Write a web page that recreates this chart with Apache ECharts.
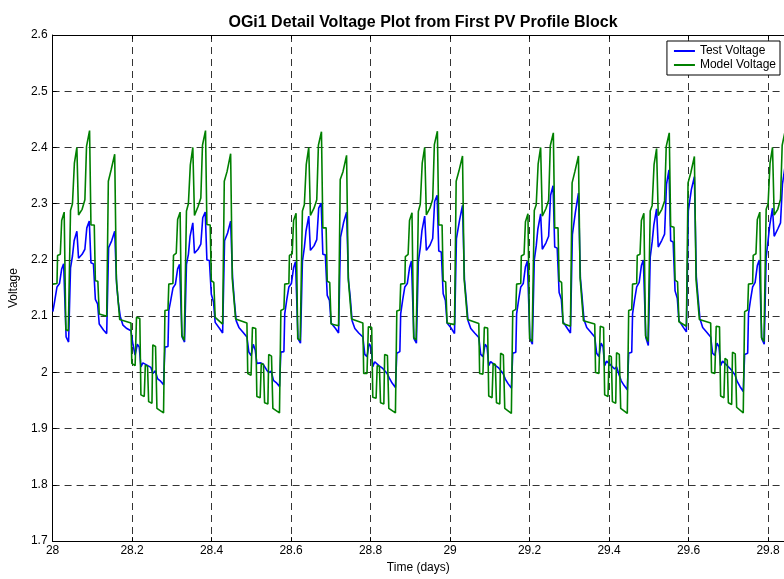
<!DOCTYPE html>
<html>
<head>
<meta charset="utf-8">
<title>OGi1 Detail Voltage Plot</title>
<script src="https://cdn.jsdelivr.net/npm/echarts@6/dist/echarts.min.js"></script>
<style>
html, body { margin: 0; padding: 0; background: #fff; }
#chart { width: 784px; height: 579px; }
</style>
</head>
<body>
<div id="chart"></div>
<script>
// profile block repeats every 7 hours, starting at day 28
var startDay = 28;
var cycleMinutes = 420;

var xMin = 28, xMax = 29.84, xStep = 0.2;
var yMin = 1.7, yMax = 2.6, yStep = 0.1;

// minute offsets inside one cycle where each trace changes
var modelMinutes = [1,16,18,28,33,42,46,48,57,65,72,79,88,94,107,117,123,134,139,151,155,164,169,196,202,212,225,231,238,243,284,287,299,304,316,320,332,336,344,348,360,363,373,378,402,407,418];
var testMinutes = [1,8,16,25,33,40,49,58,65,72,78,88,94,107,117,124,133,139,148,155,163,169,185,196,203,214,225,232,238,245,255,269,284,291,299,307,314,320,327,334,342,349,356,363,372,380,390,402,407,418];

// Model Voltage, one row per cycle
var modelCycles = [
  [2.157,2.158,2.208,2.210,2.270,2.285,2.285,2.076,2.074,2.288,2.300,2.372,2.400,2.280,2.290,2.307,2.402,2.430,2.262,2.262,2.163,2.162,2.104,2.100,2.340,2.360,2.388,2.166,2.165,2.094,2.088,2.016,2.012,2.098,2.096,1.960,1.957,2.013,2.011,1.948,1.945,2.049,2.046,1.936,1.928,2.110,2.111],
  [2.157,2.158,2.208,2.212,2.272,2.285,2.285,2.066,2.057,2.287,2.300,2.369,2.400,2.279,2.295,2.310,2.404,2.430,2.263,2.262,2.163,2.160,2.098,2.086,2.340,2.357,2.389,2.166,2.165,2.095,2.088,1.998,1.995,2.080,2.078,1.957,1.955,2.016,2.014,1.946,1.944,2.032,2.029,1.936,1.928,2.110,2.113],
  [2.157,2.158,2.208,2.211,2.270,2.283,2.283,2.060,2.057,2.287,2.298,2.370,2.400,2.279,2.292,2.307,2.404,2.428,2.257,2.257,2.162,2.160,2.086,2.083,2.343,2.357,2.386,2.168,2.166,2.095,2.088,1.998,1.998,2.081,2.080,1.956,1.954,2.012,2.011,1.946,1.944,2.032,2.030,1.936,1.928,2.109,2.111],
  [2.157,2.158,2.206,2.210,2.270,2.284,2.284,2.062,2.058,2.286,2.299,2.372,2.400,2.280,2.292,2.308,2.405,2.429,2.262,2.262,2.163,2.161,2.088,2.085,2.340,2.358,2.385,2.166,2.164,2.094,2.087,1.998,1.997,2.080,2.079,1.958,1.955,2.016,2.014,1.946,1.944,2.034,2.031,1.936,1.927,2.109,2.112],
  [2.157,2.158,2.207,2.210,2.268,2.282,2.282,2.060,2.055,2.288,2.298,2.371,2.400,2.278,2.291,2.306,2.403,2.426,2.257,2.257,2.163,2.160,2.087,2.082,2.337,2.357,2.385,2.168,2.166,2.092,2.086,2.000,1.998,2.082,2.080,1.960,1.957,2.030,2.028,1.948,1.945,2.035,2.032,1.936,1.927,2.110,2.112],
  [2.157,2.158,2.208,2.210,2.270,2.283,2.283,2.065,2.055,2.287,2.297,2.370,2.398,2.279,2.290,2.305,2.402,2.426,2.260,2.258,2.164,2.161,2.090,2.082,2.337,2.355,2.384,2.165,2.164,2.094,2.088,2.000,1.998,2.082,2.081,1.958,1.955,2.025,2.022,1.946,1.943,2.036,2.033,1.938,1.928,2.108,2.111],
  [2.157,2.158,2.208,2.211,2.272,2.285,2.285,2.062,2.055,2.290,2.300,2.372,2.400,2.280,2.290,2.308,2.404,2.430]
];

// Test Voltage, one row per cycle
var testCycles = [
  [2.108,2.128,2.152,2.158,2.184,2.193,2.063,2.054,2.186,2.207,2.234,2.251,2.203,2.210,2.219,2.257,2.269,2.195,2.193,2.130,2.122,2.086,2.075,2.069,2.222,2.234,2.251,2.157,2.125,2.100,2.084,2.078,2.074,2.050,2.031,2.050,2.045,2.010,2.017,2.019,2.013,2.011,2.009,1.998,2.003,1.989,1.985,1.978,2.045,2.046],
  [2.110,2.128,2.150,2.157,2.184,2.192,2.063,2.054,2.192,2.210,2.242,2.266,2.212,2.219,2.228,2.275,2.285,2.200,2.199,2.139,2.125,2.089,2.078,2.070,2.234,2.248,2.269,2.169,2.130,2.092,2.080,2.072,2.063,2.036,2.030,2.050,2.040,2.016,2.019,2.017,2.015,2.012,2.004,2.000,2.002,1.986,1.982,1.975,2.036,2.037],
  [2.104,2.128,2.152,2.158,2.186,2.197,2.060,2.052,2.197,2.222,2.251,2.278,2.217,2.225,2.236,2.292,2.301,2.210,2.209,2.137,2.128,2.088,2.078,2.070,2.240,2.266,2.285,2.163,2.135,2.092,2.078,2.070,2.063,2.032,2.028,2.051,2.045,2.010,2.019,2.019,2.012,2.013,2.007,2.010,1.998,1.990,1.981,1.973,2.034,2.037],
  [2.104,2.128,2.152,2.158,2.186,2.198,2.060,2.052,2.197,2.222,2.252,2.278,2.217,2.226,2.238,2.304,2.315,2.216,2.214,2.140,2.128,2.088,2.078,2.069,2.238,2.270,2.297,2.165,2.132,2.092,2.078,2.070,2.062,2.032,2.028,2.050,2.045,2.012,2.019,2.018,2.013,2.012,2.008,2.010,1.998,1.988,1.980,1.972,2.034,2.036],
  [2.104,2.128,2.152,2.158,2.188,2.198,2.060,2.050,2.200,2.225,2.255,2.282,2.219,2.230,2.242,2.315,2.332,2.223,2.221,2.142,2.130,2.090,2.078,2.070,2.245,2.285,2.319,2.168,2.135,2.094,2.080,2.072,2.063,2.034,2.028,2.052,2.046,2.012,2.020,2.018,2.013,2.010,2.006,2.010,1.996,1.985,1.977,1.969,2.034,2.036],
  [2.104,2.128,2.152,2.160,2.190,2.200,2.062,2.048,2.205,2.232,2.262,2.291,2.223,2.235,2.246,2.335,2.360,2.234,2.232,2.145,2.132,2.092,2.080,2.072,2.287,2.325,2.348,2.170,2.135,2.096,2.080,2.072,2.063,2.034,2.030,2.052,2.046,2.012,2.020,2.018,2.013,2.010,2.006,2.008,1.996,1.984,1.975,1.966,2.032,2.034],
  [2.104,2.128,2.152,2.160,2.190,2.200,2.060,2.050,2.205,2.235,2.262,2.292,2.242,2.255,2.266,2.335,2.365]
];

function buildPoints(minutes, cycles) {
  var pts = [];
  cycles.forEach(function (vals, c) {
    vals.forEach(function (v, i) {
      pts.push([startDay + (c * cycleMinutes + minutes[i]) / 1440, v]);
    });
  });
  return pts;
}

var font = 'Liberation Sans, Arial, sans-serif';
var gridDash = { color: '#333', width: 1, type: [7, 5] };

var chart = echarts.init(document.getElementById('chart'));
var option = {
  animation: false,
  backgroundColor: '#fff',
  title: {
    text: 'OGi1 Detail Voltage Plot from First PV Profile Block',
    left: 418,
    textAlign: 'center',
    top: 10,
    textStyle: { fontFamily: font, fontSize: 16, fontWeight: 'bold', color: '#000' }
  },
  legend: {
    orient: 'vertical',
    right: 4,
    top: 41,
    backgroundColor: '#fff',
    borderColor: '#000',
    borderWidth: 1,
    borderRadius: 0,
    padding: [4, 4, 4, 7],
    itemGap: 2,
    itemWidth: 21,
    itemHeight: 2,
    icon: 'rect',
    textStyle: { fontFamily: font, fontSize: 12, color: '#000' },
    data: ['Test Voltage', 'Model Voltage']
  },
  grid: { left: 52, right: 0, top: 35, bottom: 32, containLabel: false },
  xAxis: [{
    type: 'value',
    min: xMin, max: xMax, interval: xStep,
    name: 'Time (days)',
    nameLocation: 'middle',
    nameGap: 19,
    nameTextStyle: { fontFamily: font, fontSize: 12, color: '#000' },
    axisLine: { lineStyle: { color: '#000', width: 1 } },
    axisTick: { inside: true, length: 4, lineStyle: { color: '#000' } },
    axisLabel: {
      fontFamily: font, fontSize: 12, color: '#000', margin: 4,
      showMaxLabel: false,
      formatter: function (v) { return String(+v.toFixed(1)); }
    },
    splitLine: { show: true, lineStyle: gridDash }
  }, {
    type: 'value',
    position: 'top',
    min: xMin, max: xMax, interval: xStep,
    axisLine: { lineStyle: { color: '#000', width: 1 } },
    axisTick: { inside: true, length: 4, lineStyle: { color: '#000' } },
    axisLabel: { show: false },
    splitLine: { show: false }
  }],
  yAxis: {
    type: 'value',
    min: yMin, max: yMax, interval: yStep,
    name: 'Voltage',
    nameLocation: 'middle',
    nameGap: 27,
    nameTextStyle: { fontFamily: font, fontSize: 12, color: '#000' },
    axisLine: { show: true, lineStyle: { color: '#000', width: 1 } },
    axisTick: { show: true, inside: true, length: 4, lineStyle: { color: '#000' } },
    axisLabel: {
      fontFamily: font, fontSize: 12, color: '#000', margin: 5,
      formatter: function (v) { return String(+v.toFixed(1)); }
    },
    splitLine: { show: true, lineStyle: gridDash }
  },
  series: [{
    name: 'Test Voltage',
    type: 'line',
    xAxisIndex: 0,
    symbol: 'none',
    lineStyle: { color: '#0000ff', width: 1.6 },
    itemStyle: { color: '#0000ff' },
    data: buildPoints(testMinutes, testCycles)
  }, {
    name: 'Model Voltage',
    type: 'line',
    xAxisIndex: 0,
    symbol: 'none',
    lineStyle: { color: '#008000', width: 1.6 },
    itemStyle: { color: '#008000' },
    data: buildPoints(modelMinutes, modelCycles)
  }]
};
chart.setOption(option);
</script>
</body>
</html>
